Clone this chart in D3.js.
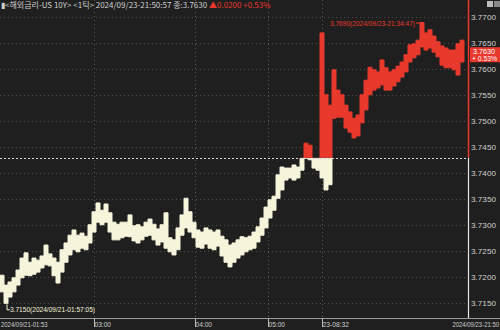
<!DOCTYPE html>
<html><head><meta charset="utf-8">
<script src="https://cdn.jsdelivr.net/npm/d3@7"></script>
<style>html,body{margin:0;padding:0;background:#1f1f1f;overflow:hidden}svg{display:block}</style>
</head><body><svg id="c" width="500" height="330"></svg>
<script>
// ---- data (one bucket per ~4px of the tick chart: high / low in the bucket) ----
const hiVals = [3.7204,3.7185,3.7191,3.7199,3.7214,3.7237,3.7247,3.7229,3.7237,3.7233,
3.7241,3.7262,3.7245,3.7237,3.7229,3.7253,3.7266,3.7281,3.7291,3.7281,
3.7285,3.7279,3.7301,3.7326,3.7343,3.7329,3.7341,3.7324,3.7306,3.7302,
3.7306,3.7306,3.7320,3.7299,3.7301,3.7297,3.7306,3.7312,3.7302,3.7293,
3.7301,3.7324,3.7276,3.7272,3.7295,3.7320,3.7352,3.7326,3.7306,3.7291,
3.7287,3.7295,3.7291,3.7287,3.7291,3.7279,3.7272,3.7262,3.7266,3.7272,
3.7278,3.7276,3.7279,3.7287,3.7297,3.7314,3.7335,3.7349,3.7356,3.7397,
3.7412,3.7410,3.7410,3.7416,3.7412,3.7429,3.7458,3.7454,3.7429,3.7429,
3.7670,3.7551,3.7531,3.7599,3.7560,3.7551,3.7531,3.7518,3.7506,3.7512,
3.7551,3.7579,3.7604,3.7599,3.7595,3.7618,3.7603,3.7595,3.7599,3.7606,
3.7614,3.7628,3.7647,3.7649,3.7656,3.7690,3.7670,3.7676,3.7664,3.7653,
3.7645,3.7641,3.7637,3.7637,3.7649,3.7656];
const loVals = [3.7172,3.7150,3.7162,3.7172,3.7185,3.7199,3.7204,3.7203,3.7206,3.7210,
3.7218,3.7224,3.7222,3.7203,3.7189,3.7210,3.7229,3.7243,3.7253,3.7249,
3.7256,3.7253,3.7266,3.7287,3.7306,3.7301,3.7306,3.7287,3.7272,3.7272,
3.7276,3.7279,3.7278,3.7270,3.7266,3.7272,3.7279,3.7281,3.7272,3.7262,
3.7268,3.7256,3.7249,3.7243,3.7253,3.7281,3.7295,3.7287,3.7276,3.7258,
3.7256,3.7264,3.7256,3.7253,3.7260,3.7241,3.7229,3.7220,3.7229,3.7237,
3.7243,3.7249,3.7253,3.7256,3.7268,3.7281,3.7295,3.7314,3.7329,3.7352,
3.7368,3.7387,3.7391,3.7387,3.7391,3.7406,3.7429,3.7426,3.7410,3.7406,
3.7391,3.7368,3.7378,3.7506,3.7508,3.7508,3.7487,3.7479,3.7468,3.7472,
3.7497,3.7522,3.7551,3.7560,3.7564,3.7570,3.7560,3.7560,3.7568,3.7576,
3.7585,3.7595,3.7614,3.7622,3.7628,3.7643,3.7637,3.7641,3.7633,3.7624,
3.7608,3.7603,3.7603,3.7599,3.7589,3.7614];
const prevClose = 3.7430;
const lastPrice = 3.7630;
const change = "▲0.0200";
const changePct = "+0.53%";
const yTicks = [3.7150,3.7200,3.7250,3.7300,3.7350,3.7400,3.7450,3.7500,3.7550,3.7600,3.7650,3.7700];
const xTickIdx = [23.5, 48.75, 67, 80.5];
const xTickLabels = ["03:00","04:00","05:00","23-08:32"];
const startLabel = "2024/09/21-01:53";
const endLabel = "2024/09/23-21:50";
const headerMain = "▮<해외금리-US 10Y> <1틱> 2024/09/23-21:50:57 종:3.7630 ";
const maxIdx = 105, maxNote = "3.7690(2024/09/23-21:34:47)";
const minIdx = 1, minNote = "3.7150(2024/09/21-01:57:05)";

// ---- drawing ----
const W = 500, H = 330;
const plotR = 468, plotB = 318;
const RED = "#e8392c", CREAM = "#f7f4dc", TXT = "#cfcfcf", BG = "#1f1f1f";
const FONT = "Liberation Sans, Arial, sans-serif";
const N = hiVals.length;
const svg = d3.select("#c");
svg.append("rect").attr("width", W).attr("height", H).attr("fill", BG);

const x = d3.scaleLinear().domain([0, N]).range([0, 464]);
const y = d3.scaleLinear().domain([3.715, 3.770]).range([303.3, 17.3]);
const baseY = y(prevClose);

// horizontal grid
svg.append("g").selectAll("line").data(yTicks).join("line")
  .attr("x1", 0).attr("x2", plotR).attr("y1", d => Math.round(y(d)) + 0.5).attr("y2", d => Math.round(y(d)) + 0.5)
  .attr("stroke", "#4e4e4e").attr("stroke-dasharray", "1,3");
// vertical grid
svg.append("g").selectAll("line").data(xTickIdx).join("line")
  .attr("x1", d => Math.round(x(d)) + 0.5).attr("x2", d => Math.round(x(d)) + 0.5)
  .attr("y1", 0).attr("y2", plotB)
  .attr("stroke", "#5a5a5a").attr("stroke-dasharray", "1,3");

// clips
const defs = svg.append("defs");
defs.append("clipPath").attr("id", "above").append("rect")
  .attr("x", 0).attr("y", 0).attr("width", plotR).attr("height", baseY);
defs.append("clipPath").attr("id", "below").append("rect")
  .attr("x", 0).attr("y", baseY).attr("width", plotR).attr("height", plotB - baseY);

const pts = hiVals.map((h, i) => ({i, h, l: loVals[i]}));
pts.push({i: N, h: hiVals[N - 1], l: loVals[N - 1]});
const area = d3.area().curve(d3.curveStepAfter)
  .x(d => x(d.i)).y0(d => y(d.l)).y1(d => y(d.h));

[["below", CREAM], ["above", RED]].forEach(([clip, col]) => {
  svg.append("path").datum(pts).attr("d", area)
    .attr("fill", col).attr("stroke", col).attr("stroke-width", 1)
    .attr("clip-path", `url(#${clip})`);
});

// baseline (previous close)
svg.append("line").attr("x1", 0).attr("x2", plotR).attr("y1", Math.round(baseY) + 0.5).attr("y2", Math.round(baseY) + 0.5)
  .attr("stroke", "#d8d8d8").attr("stroke-dasharray", "2,2");

// right border line
svg.append("line").attr("x1", plotR + 0.5).attr("x2", plotR + 0.5).attr("y1", 0).attr("y2", baseY)
  .attr("stroke", RED).attr("stroke-width", 1.5);
svg.append("line").attr("x1", plotR + 0.5).attr("x2", plotR + 0.5).attr("y1", baseY).attr("y2", plotB)
  .attr("stroke", "#e8e8e8").attr("stroke-width", 1.2);

// y axis labels
const yAxis = d3.axisRight(y).tickValues(yTicks).tickSize(0).tickFormat(d3.format(".4f"));
const ya = svg.append("g").attr("transform", `translate(${plotR + 1},0)`).call(yAxis);
ya.select(".domain").remove();
ya.selectAll("text").attr("fill", TXT).attr("font-family", FONT)
  .attr("font-size", 8).attr("x", 2).attr("textLength", 25).attr("lengthAdjust", "spacingAndGlyphs");

// x axis
const xAxis = d3.axisBottom(x).tickValues(xTickIdx).tickSize(9).tickFormat((d, i) => xTickLabels[i]);
const xa = svg.append("g").attr("transform", `translate(0,${plotB})`).call(xAxis);
xa.select(".domain").attr("d", `M0,0.5H${W}`).attr("stroke", "#9a9a9a");
xa.selectAll(".tick line").attr("stroke", "#bdbdbd");
xa.selectAll("text").attr("fill", TXT).attr("font-family", FONT)
  .attr("font-size", 8).attr("text-anchor", "start").attr("x", 0).attr("y", 3).attr("dy", "0.71em")
  .attr("textLength", (d, i) => xTickLabels[i].length * 3.3).attr("lengthAdjust", "spacingAndGlyphs");
svg.append("text").attr("transform", "translate(1,327) scale(0.85,1)").text(startLabel)
  .attr("fill", TXT).attr("font-family", FONT).attr("font-size", 7);
svg.append("text").attr("transform", "translate(499,327) scale(0.85,1)").attr("text-anchor", "end").text(endLabel)
  .attr("fill", TXT).attr("font-family", FONT).attr("font-size", 7);

// header
const hdr = svg.append("text").attr("x", 1).attr("y", 8)
  .attr("font-family", "Noto Sans CJK KR, sans-serif").attr("font-size", 8);
hdr.append("tspan").attr("fill", TXT).text(headerMain);
hdr.append("tspan").attr("fill", RED).text(change + " " + changePct);

// top right icons
svg.append("rect").attr("x", 487).attr("y", 1).attr("width", 6).attr("height", 6).attr("fill", "#bbb");
svg.append("rect").attr("x", 494).attr("y", 1).attr("width", 6).attr("height", 6).attr("fill", "#888");

// last price box
const ly = y(lastPrice);
svg.append("rect").attr("x", 470).attr("y", ly - 6.5).attr("width", 30).attr("height", 15).attr("fill", RED);
svg.append("text").attr("x", 473).attr("y", ly + 0.5).text(lastPrice.toFixed(4))
  .attr("fill", "#fff").attr("font-family", FONT).attr("font-size", 7)
  .attr("textLength", 22).attr("lengthAdjust", "spacingAndGlyphs");
svg.append("text").attr("x", 472).attr("y", ly + 7.5).text("+ 0.53%")
  .attr("fill", "#fff").attr("font-family", FONT).attr("font-size", 7)
  .attr("textLength", 25).attr("lengthAdjust", "spacingAndGlyphs");

// max annotation
const mx = x(maxIdx) + 1, myy = y(hiVals[maxIdx]);
svg.append("text").attr("x", mx - 91).attr("y", myy + 3).text(maxNote)
  .attr("fill", RED).attr("font-family", FONT).attr("font-size", 7.5)
  .attr("textLength", 85).attr("lengthAdjust", "spacingAndGlyphs");
svg.append("path").attr("d", `M${mx - 5},${myy + 0.5}H${mx}V${myy + 4}`)
  .attr("stroke", RED).attr("fill", "none");

// min annotation
const nx = x(minIdx) + 3, ny = y(loVals[minIdx]);
svg.append("path").attr("d", `M${nx},${ny + 1}V${ny + 6.5}H${nx + 3}`)
  .attr("stroke", CREAM).attr("fill", "none");
svg.append("text").attr("x", nx + 3).attr("y", ny + 9).text(minNote)
  .attr("fill", CREAM).attr("font-family", FONT).attr("font-size", 7.5)
  .attr("textLength", 85).attr("lengthAdjust", "spacingAndGlyphs");
</script></body></html>
